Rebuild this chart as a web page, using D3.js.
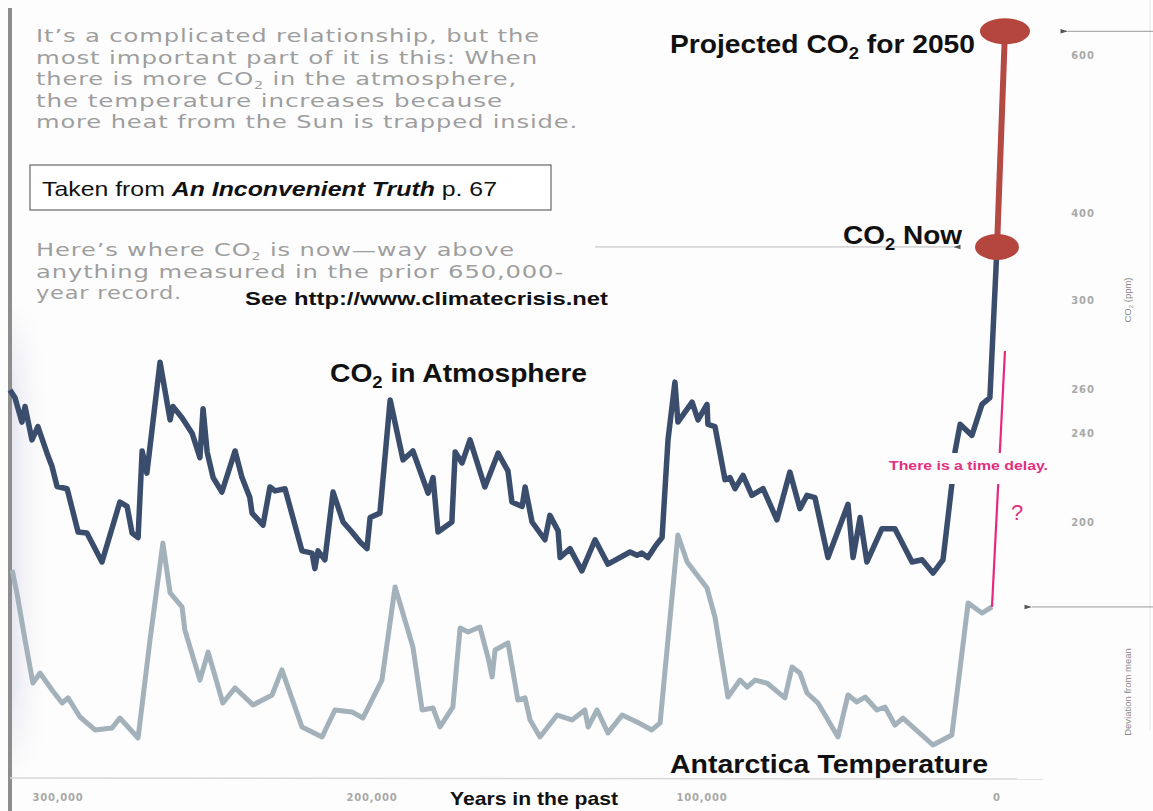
<!DOCTYPE html>
<html>
<head>
<meta charset="utf-8">
<script src="https://cdn.jsdelivr.net/npm/d3@7"></script>
<style>
  body { margin: 0; background: #fff; }
  svg { display: block; }
</style>
</head>
<body>
<svg id="chart"></svg>
<script>
// thousands of years before present
const co2Years = [315.3, 313.7, 311.5, 310.5, 308.3, 306.4, 303.5, 301.9, 300.3, 297.1, 293.6, 290.8, 286, 280.3, 278, 276.4, 274.5, 273.2, 271.7, 267.5, 264.3, 263.4, 260.5, 257.3, 254.8, 253.8, 252.5, 250.6, 247.8, 243.6, 241.4, 238.9, 238.2, 234.7, 232.5, 230.9, 227.7, 222.3, 219.1, 218.2, 217.2, 215, 212.4, 209.2, 206.4, 203.8, 201.6, 200.6, 197.6, 194.5, 190.6, 187.6, 183, 181.5, 180, 175.8, 174.8, 172.7, 170.3, 165.8, 161.8, 158.8, 157.6, 154.5, 153.6, 151.5, 147.6, 146.1, 143.6, 143, 140, 136.4, 132.4, 128.5, 121.8, 119.7, 118.2, 116.4, 114.2, 112.1, 110.3, 108.2, 107.3, 103, 101.2, 98.3, 98, 95.6, 92.2, 90.5, 88.8, 86.1, 83.1, 79.3, 74.6, 70.2, 66.8, 64.4, 61.7, 57.3, 50.5, 48.8, 46.4, 44.1, 39, 34.6, 28.8, 25.4, 21.7, 18.3, 15.3, 14.2, 12.5, 8.5, 5.1, 2.4, 0]
// ppm
const co2Values = [259.5, 256, 245, 252, 237, 243, 231, 225, 216, 215, 195.5, 195, 182, 209, 207, 195, 193, 232, 222, 272, 246, 252, 247, 240, 229, 251, 231.5, 220, 213.5, 232, 220, 211, 204, 198.6, 215.8, 214, 215, 187, 186, 179, 187, 183, 213.5, 200, 195.5, 191, 188, 202, 204, 255, 228, 232, 213, 220, 195.5, 200, 231.5, 226.6, 237, 215.8, 231, 223, 209, 207, 215.8, 200, 192, 203, 196, 184, 188, 178, 192, 181, 186.5, 185, 186, 184, 189, 193, 237, 263, 245, 254, 246, 253, 244, 243, 219, 220, 215, 221, 212, 215, 201, 222.5, 206, 212, 211, 184, 208, 184, 202, 182, 197, 197, 182, 183, 177, 183, 217, 232, 244, 239, 253, 256, 361]

const tempYears = [314.6, 313.1, 310.5, 308, 305.7, 301.9, 298.7, 296.8, 293, 288.2, 282.8, 280.3, 274.5, 270.7, 266.6, 264.3, 260.5, 259.6, 254.8, 252.2, 247.5, 243.6, 237.9, 231.8, 228.7, 222.3, 215.9, 211.8, 206.4, 202.9, 197, 193, 187.6, 184.8, 181.5, 179.4, 175.5, 173.3, 170.9, 167.3, 164.8, 163.6, 162.7, 158.8, 155.8, 153.6, 152.1, 149.1, 143.9, 139.4, 135.5, 134.5, 131.8, 128.5, 124.2, 119.7, 115.2, 112.7, 107.3, 104.5, 98.3, 95.6, 91.2, 87.1, 84.7, 82, 78, 71.9, 69.5, 66.8, 64.4, 60.7, 53.9, 50.5, 47.5, 44.7, 40.7, 38, 34.6, 31.9, 21.7, 15.3, 9.8, 5.1, 1.7]
// deg C, deviation from mean
const tempValues = [2.0, 0.69, -2.0, -4.46, -3.89, -4.86, -5.6, -5.31, -6.4, -7.14, -7.03, -6.46, -7.6, -2.0, 3.54, 0.69, -0.11, -1.43, -4.29, -2.69, -5.6, -4.74, -5.71, -5.14, -3.71, -6.97, -7.54, -6.0, -6.11, -6.46, -4.29, 1.03, -2.4, -6.0, -5.89, -6.97, -5.83, -1.31, -1.54, -1.26, -3.03, -4.11, -2.57, -2.17, -5.43, -5.31, -6.57, -7.54, -6.29, -6.57, -6.0, -6.97, -6.0, -7.31, -6.29, -6.69, -7.14, -6.74, 4.0, 2.46, 0.97, -0.69, -5.26, -4.29, -4.69, -4.29, -4.46, -5.31, -3.54, -3.89, -5.03, -5.6, -7.54, -5.14, -5.54, -5.26, -6.0, -5.83, -6.86, -6.46, -8.0, -7.43, 0.11, -0.46, -0.11]

const projectedYear = -2.7
const projectedPpm = 630
const delayTopPpm = 277

const yearTicks = [300, 200, 100, 0]
const yearTickLabels = ["300,000", "200,000", "100,000", "0"]
const co2Ticks = [600, 400, 300, 260, 240, 200]

const introLines = [
  [["It’s a complicated relationship, but the"]],
  [["most important part of it is this: When"]],
  [["there is more CO"], ["2", "sub"], [" in the atmosphere,"]],
  [["the temperature increases because"]],
  [["more heat from the Sun is trapped inside."]],
]
const introWidths = [504, 502, 481, 467, 542]
const nowLines = [
  [["Here’s where CO"], ["2", "sub"], [" is now—way above"]],
  [["anything measured in the prior 650,000-"]],
  [["year record."]],
]
const nowWidths = [479, 528, 146]

const width = 1153,
  height = 811

const svg = d3.select("#chart").attr("width", width).attr("height", height)

const x = d3.scaleLinear().domain([300, 200, 100, 0]).range([58, 372, 702, 997])
const yC = d3.scaleLinear().domain([200, 300, 400, 600]).range([522, 300, 213, 55])
const yT = d3.scaleLinear().domain([-8, 0]).range([745, 605])

const defs = svg.append("defs")
const grad = defs.append("linearGradient").attr("id", "edge")
grad.append("stop").attr("offset", "0%").attr("stop-color", "#d4d3e6").attr("stop-opacity", 0.55)
grad.append("stop").attr("offset", "100%").attr("stop-color", "#ffffff").attr("stop-opacity", 0)
const vfade = defs.append("linearGradient").attr("id", "vfade").attr("x1", 0).attr("x2", 0).attr("y1", 0).attr("y2", 1)
vfade.append("stop").attr("offset", "0%").attr("stop-color", "#fff").attr("stop-opacity", 0)
vfade.append("stop").attr("offset", "20%").attr("stop-color", "#fff").attr("stop-opacity", 1)
vfade.append("stop").attr("offset", "80%").attr("stop-color", "#fff").attr("stop-opacity", 1)
vfade.append("stop").attr("offset", "100%").attr("stop-color", "#fff").attr("stop-opacity", 0)
defs.append("mask").attr("id", "edgeMask")
  .append("rect").attr("x", 0).attr("y", 300).attr("width", 60).attr("height", 480).attr("fill", "url(#vfade)")
defs
  .append("marker")
  .attr("id", "arr")
  .attr("viewBox", "0 -4 10 8")
  .attr("refX", 0)
  .attr("refY", 0)
  .attr("markerWidth", 9)
  .attr("markerHeight", 6)
  .attr("markerUnits", "userSpaceOnUse")
  .attr("orient", "auto-start-reverse")
  .append("path")
  .attr("d", "M10,-3L0,0L10,3Z")
  .attr("fill", "#555")

svg.append("rect").attr("width", width).attr("height", height).attr("fill", "#fdfdfd")

// book gutter
svg.append("rect").attr("x", 12).attr("y", 300).attr("width", 40).attr("height", 480)
  .attr("fill", "url(#edge)").attr("mask", "url(#edgeMask)")
svg.append("rect").attr("x", 8).attr("y", 8).attr("width", 4).attr("height", height).attr("fill", "#8d8d8d")
svg.append("line").attr("x1", 1150).attr("x2", 1150).attr("y1", 0).attr("y2", 730).attr("stroke", "#e6e6e6")

// paragraphs
const writeLines = (lines, widths, y0, step) => {
  lines.forEach((segs, i) => {
    const t = svg
      .append("text")
      .attr("x", 36)
      .attr("y", y0 + i * step)
      .attr("font-family", "'DejaVu Sans', sans-serif")
      .attr("font-size", 17)
      .attr("letter-spacing", 0.6)
      .attr("fill", "#9e9e9e")
      .attr("textLength", widths[i])
      .attr("lengthAdjust", "spacingAndGlyphs")
    segs.forEach(s => {
      const sp = t.append("tspan").text(s[0])
      if (s[1] === "sub") sp.attr("font-size", 10).attr("dy", 4)
      else if (t.selectAll("tspan").size() > 1) sp.attr("dy", -4)
    })
  })
}
writeLines(introLines, introWidths, 42, 21.5)
writeLines(nowLines, nowWidths, 256, 21.5)

// source box
svg.append("rect").attr("x", 30).attr("y", 165).attr("width", 521).attr("height", 45)
  .attr("fill", "#fff").attr("stroke", "#666").attr("stroke-width", 1.2)
const src = svg.append("text").attr("x", 42).attr("y", 196)
  .attr("font-family", "'Liberation Sans', Arial, sans-serif").attr("font-size", 21).attr("fill", "#111")
  .attr("textLength", 455).attr("lengthAdjust", "spacingAndGlyphs")
src.append("tspan").text("Taken from ")
src.append("tspan").text("An Inconvenient Truth").attr("font-weight", "bold").attr("font-style", "italic")
src.append("tspan").text(" p. 67")

svg.append("text").attr("x", 245).attr("y", 305).text("See http://www.climatecrisis.net")
  .attr("font-family", "'Liberation Sans', Arial, sans-serif").attr("font-weight", "bold")
  .attr("font-size", 19).attr("fill", "#111").attr("textLength", 363).attr("lengthAdjust", "spacingAndGlyphs")

// x axis baseline
svg.append("line").attr("x1", 10).attr("x2", 1043).attr("y1", 778).attr("y2", 779)
  .attr("stroke", "#d8d8d8").attr("stroke-width", 1.5)

svg.append("g").selectAll("text").data(yearTicks).join("text")
  .attr("x", d => x(d)).attr("y", 801).attr("text-anchor", "middle")
  .attr("font-family", "'DejaVu Sans', sans-serif").attr("font-weight", "bold")
  .attr("font-size", 10).attr("letter-spacing", 0.8).attr("fill", "#a8a8a8")
  .text((d, i) => yearTickLabels[i])

svg.append("text").attr("x", 450).attr("y", 805).text("Years in the past")
  .attr("font-family", "'Liberation Sans', Arial, sans-serif").attr("font-weight", "bold")
  .attr("font-size", 19).attr("fill", "#111").attr("textLength", 168).attr("lengthAdjust", "spacingAndGlyphs")

// right axis
svg.append("g").selectAll("text").data(co2Ticks).join("text")
  .attr("x", 1083).attr("y", d => yC(d) + 4).attr("text-anchor", "middle")
  .attr("font-family", "'DejaVu Sans', sans-serif").attr("font-weight", "bold")
  .attr("font-size", 10).attr("letter-spacing", 0.8).attr("fill", "#a8a8a8")
  .text(d => d)

const co2Label = svg.append("text").attr("transform", "translate(1131," + yC(300) + ") rotate(-90)")
  .attr("text-anchor", "middle").attr("font-family", "'Liberation Sans Narrow', 'Liberation Sans', sans-serif")
  .attr("font-size", 9.5).attr("fill", "#8a8a8a")
co2Label.append("tspan").text("CO")
co2Label.append("tspan").text("2").attr("font-size", 6).attr("dy", 2)
co2Label.append("tspan").text(" (ppm)").attr("dy", -2)

svg.append("text").attr("transform", "translate(1131,692) rotate(-90)")
  .attr("text-anchor", "middle").attr("font-family", "'Liberation Sans Narrow', 'Liberation Sans', sans-serif")
  .attr("font-size", 9.5).attr("fill", "#8a8a8a").text("Deviation from mean")

// pointer arrows
const co2Now = co2Values[co2Values.length - 1]
const arrow = (x1, x2, y) =>
  svg.append("line").attr("x1", x1).attr("x2", x2).attr("y1", y).attr("y2", y)
    .attr("stroke", "#999").attr("stroke-width", 1).attr("marker-start", "url(#arr)")
arrow(1068, width, yC(projectedPpm))
arrow(x(0) + 35, width, yT(tempValues[tempValues.length - 1]))
svg.append("line").attr("x1", 595).attr("x2", 953).attr("y1", yC(co2Now)).attr("y2", yC(co2Now))
  .attr("stroke", "#bbb").attr("stroke-width", 1).attr("marker-end", "url(#arr)")

// curves
const co2Data = co2Years.map((d, i) => [d, co2Values[i]])
const tempData = tempYears.map((d, i) => [d, tempValues[i]])

svg.append("path").datum(tempData)
  .attr("d", d3.line().x(d => x(d[0])).y(d => yT(d[1])))
  .attr("fill", "none").attr("stroke", "#a3b1bb").attr("stroke-width", 5).attr("stroke-linejoin", "round")

svg.append("path").datum(co2Data)
  .attr("d", d3.line().x(d => x(d[0])).y(d => yC(d[1])))
  .attr("fill", "none").attr("stroke", "#3a4d6c").attr("stroke-width", 5.5).attr("stroke-linejoin", "round")

// projection
svg.append("line")
  .attr("x1", x(0)).attr("y1", yC(co2Now))
  .attr("x2", x(projectedYear)).attr("y2", yC(projectedPpm))
  .attr("stroke", "#b44a44").attr("stroke-width", 6)
svg.append("ellipse").attr("cx", x(0)).attr("cy", yC(co2Now)).attr("rx", 22).attr("ry", 13).attr("fill", "#b4463e")
svg.append("ellipse").attr("cx", x(projectedYear)).attr("cy", yC(projectedPpm)).attr("rx", 25).attr("ry", 13).attr("fill", "#b4463e")

// time delay marker
const tLast = tempData[tempData.length - 1]
svg.append("line")
  .attr("x1", x(tLast[0])).attr("y1", yT(tLast[1]))
  .attr("x2", x(projectedYear)).attr("y2", yC(delayTopPpm))
  .attr("stroke", "#e8287f").attr("stroke-width", 2.2)
svg.append("rect").attr("x", 885).attr("y", 453).attr("width", 166).attr("height", 31).attr("fill", "#fdfdfd")
svg.append("text").attr("x", 889).attr("y", 470).text("There is a time delay.")
  .attr("font-family", "'Liberation Sans', Arial, sans-serif").attr("font-weight", "bold")
  .attr("font-size", 12).attr("fill", "#e0307f").attr("textLength", 159).attr("lengthAdjust", "spacingAndGlyphs")
svg.append("text").attr("x", 1017).attr("y", 520).attr("text-anchor", "middle").text("?")
  .attr("font-family", "'Liberation Sans', Arial, sans-serif").attr("font-size", 22).attr("fill", "#e0307f")

// big labels
const bigLabel = (xPos, yPos, len, parts) => {
  const t = svg.append("text").attr("x", xPos).attr("y", yPos)
    .attr("font-family", "'Liberation Sans', Arial, sans-serif").attr("font-weight", "bold")
    .attr("font-size", 26).attr("fill", "#111").attr("textLength", len).attr("lengthAdjust", "spacingAndGlyphs")
  parts.forEach((p, i) => {
    const sp = t.append("tspan").text(p)
    if (i === 1) sp.attr("font-size", 17).attr("dy", 6)
    if (i === 2) sp.attr("dy", -6)
  })
}
bigLabel(670, 53, 305, ["Projected CO", "2", " for 2050"])
bigLabel(843, 244, 119, ["CO", "2", " Now"])
bigLabel(330, 382, 257, ["CO", "2", " in Atmosphere"])
bigLabel(670, 773, 318, ["Antarctica Temperature"])
</script>
</body>
</html>
